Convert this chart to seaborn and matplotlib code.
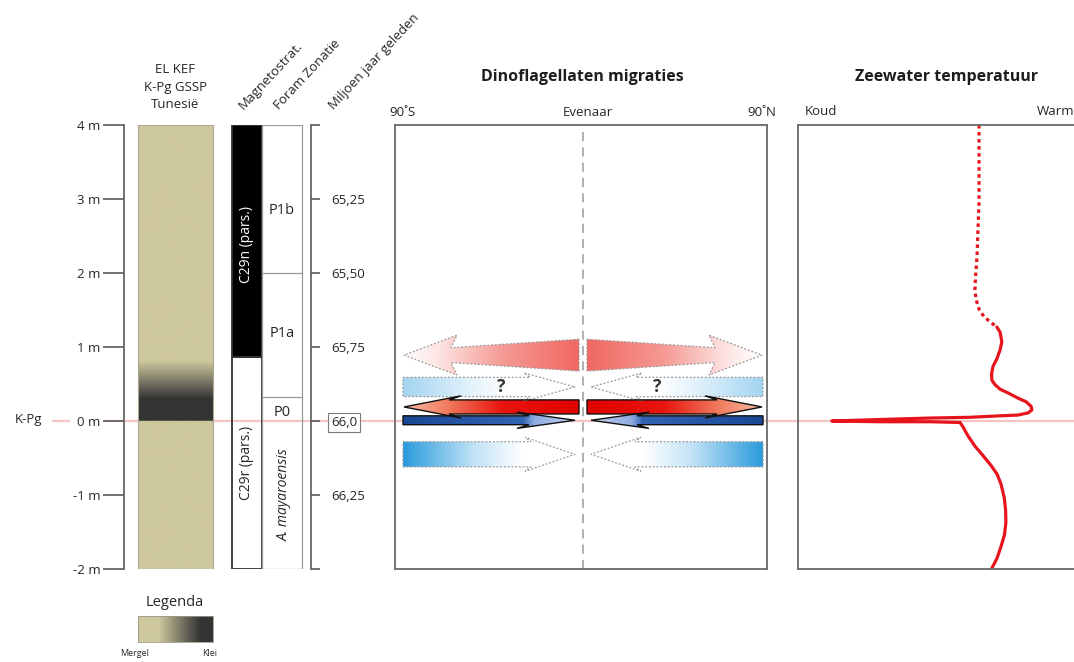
import numpy as np
import matplotlib
matplotlib.use("Agg")
import matplotlib.pyplot as plt
import seaborn as sns
from matplotlib.patches import Polygon, Rectangle
from matplotlib.colors import LinearSegmentedColormap

# ---------------- data ----------------
depth_ticks = [4, 3, 2, 1, 0, -1, -2]
depth_tick_labels = ["4 m", "3 m", "2 m", "1 m", "0 m", "-1 m", "-2 m"]
age_tick_depths = [4, 3, 2, 1, 0, -1, -2]
age_tick_labels = ["", "65,25", "65,50", "65,75", "66,0", "66,25", ""]

litho_depth = [-2.0, 0.0, 0.0, 0.30, 0.82, 4.0]
litho_clay = [0.0, 0.0, 1.0, 1.0, 0.0, 0.0]

magneto_names = ["C29n (pars.)", "C29r (pars.)"]
magneto_top = [4.0, 0.865]
magneto_base = [0.865, -2.0]
magneto_fill = ["black", "none"]

foram_zones = ["P1b", "P1a", "P0", "A. mayaroensis"]
foram_top = [4.0, 2.0, 0.32, 0.0]
foram_base = [2.0, 0.32, 0.0, -2.0]

kpg_depth = 0.0

dino_depth = [0.89, 0.46, 0.19, 0.01, -0.45]
dino_direction = ["poleward", "equatorward", "poleward", "equatorward", "equatorward"]
dino_uncertain = [False, True, False, False, False]

temp_dotted = [6.20, 6.20, 6.16, 6.13, 6.08, 6.06, 6.10, 6.20, 6.37, 6.58, 6.81]
depth_dotted = [4.00, 2.96, 2.55, 2.22, 1.95, 1.77, 1.64, 1.51, 1.41, 1.34, 1.27]
temp_solid = [6.81, 6.92, 6.98, 6.92, 6.81, 6.68, 6.63, 6.64, 6.75, 6.92, 7.19, 7.53,
              7.81, 7.98, 8.01, 7.88, 7.53, 6.92, 5.89, 4.52, 2.81, 1.16, 2.81, 4.52,
              5.55, 5.65, 5.82, 6.06, 6.34, 6.61, 6.82, 6.95, 7.06, 7.11, 7.12, 7.07,
              6.95, 6.82, 6.64, 6.58]
depth_solid = [1.27, 1.20, 1.07, 0.96, 0.84, 0.74, 0.64, 0.55, 0.49, 0.43, 0.38, 0.31,
               0.26, 0.20, 0.15, 0.11, 0.08, 0.07, 0.05, 0.04, 0.02, 0.00, -0.01, -0.01,
               -0.02, -0.08, -0.20, -0.34, -0.47, -0.60, -0.72, -0.85, -1.03, -1.20,
               -1.37, -1.54, -1.70, -1.85, -1.99, -2.04]

# ---------------- setup ----------------
sns.set_theme(style="white")
plt.rcParams["font.family"] = ["Open Sans", "DejaVu Sans"]

W, H = 1074, 662
fig = plt.figure(figsize=(W / 100, H / 100), dpi=100)
fig.patch.set_facecolor("white")


def box(x0, y0, x1, y1):
    return [x0 / W, 1 - y1 / H, (x1 - x0) / W, (y1 - y0) / H]


TOP, BOT = 125, 569
YL = (-2, 4)
PXM = (BOT - TOP) / 6.0
TXT = "#262626"
SP = "#5a5a5a"

# background axes for the K-Pg line
ax_bg = fig.add_axes([0, 0, 1, 1])
ax_bg.set_xlim(0, W)
ax_bg.set_ylim(-2 - (H - BOT) / PXM, 4 + TOP / PXM)
ax_bg.axis("off")
ax_bg.hlines(kpg_depth, 52, 70, color="#f7c4c4", lw=1.6)
ax_bg.hlines(kpg_depth, 103, W, color="#f7c4c4", lw=1.6)
fig.text(28 / W, 1 - 419 / H, "K-Pg", ha="center", va="center", size=9.5, color=TXT)

# ---------------- left strip: depth, litho, magneto, foram, age ----------------
ax_l = fig.add_axes(box(124, TOP, 311, BOT))
ax_l.set_facecolor("none")
ax_l.set_xlim(0, 187)
ax_l.set_ylim(*YL)
for s in ["top", "bottom", "right"]:
    ax_l.spines[s].set_visible(False)
ax_l.spines["left"].set_color(SP)
ax_l.spines["left"].set_linewidth(1.2)
ax_l.set_xticks([])
ax_l.set_yticks(depth_ticks)
ax_l.set_yticklabels(depth_tick_labels)
ax_l.tick_params(axis="y", direction="out", length=15, width=1.2, color=SP,
                 pad=2, labelsize=9.5, labelcolor=TXT, left=True)

litho_cmap = LinearSegmentedColormap.from_list("litho", ["#cfc99f", "#343434"])
grid = np.linspace(-2, 4, 800)
clay = np.interp(grid, litho_depth, litho_clay)
ax_l.imshow(clay[:, None], extent=[14, 89, -2, 4], origin="lower", cmap=litho_cmap,
            vmin=0, vmax=1, aspect="auto", interpolation="bilinear", zorder=1)
ax_l.add_patch(Rectangle((14, -2), 75, 6, fc="none", ec="#a8a68e", lw=0.8, zorder=2))

for name, top, base, fill in zip(magneto_names, magneto_top, magneto_base, magneto_fill):
    ax_l.bar(123, top - base, bottom=base, width=30, color=fill,
             edgecolor="#333333", linewidth=1.3, zorder=3)
    ax_l.text(123, (top + base) / 2 - (0.05 if fill == "black" else 0.0), name,
              rotation=90, ha="center", va="center", size=10,
              color="white" if fill == "black" else TXT, zorder=4)

ax_l.bar(158, 6, bottom=-2, width=40, color="none", edgecolor="#9a9a9a",
         linewidth=0.9, zorder=3)
for zone, top, base in zip(foram_zones, foram_top, foram_base):
    if base > -2 and base != kpg_depth:
        ax_l.hlines(base, 138, 178, color="#9a9a9a", lw=0.9, zorder=3)
    if zone.startswith("A."):
        ax_l.text(160, (top + base) / 2, zone, rotation=90, ha="center", va="center",
                  size=10, style="italic", color=TXT, zorder=4)
    else:
        off = {"P1b": -0.15, "P1a": 0.02, "P0": -0.04}[zone]
        ax_l.text(158, (top + base) / 2 + off, zone, ha="center", va="center",
                  size=10.5, color=TXT, zorder=4)

ax_age = ax_l.twinx()
ax_age.set_ylim(*YL)
ax_age.set_facecolor("none")
for s in ["top", "bottom", "left"]:
    ax_age.spines[s].set_visible(False)
ax_age.spines["right"].set_color(SP)
ax_age.spines["right"].set_linewidth(1.2)
ax_age.set_yticks(age_tick_depths)
ax_age.set_yticklabels(age_tick_labels)
ax_age.tick_params(axis="y", direction="out", length=6.5, width=1.2, color=SP,
                   pad=8, labelsize=9.5, labelcolor=TXT, right=True)
for lab in ax_age.get_yticklabels():
    if lab.get_text() == "66,0":
        lab.set_bbox(dict(fc="white", ec="#7a7a7a", lw=0.8, pad=2.0))

ax_l.set_xlim(0, 187)
ax_l.set_ylim(*YL)

# headers
fig.text(175 / W, 1 - 87 / H, "EL KEF\nK-Pg GSSP\nTunesië", ha="center", va="center",
         size=9.5, color=TXT, linespacing=1.45)
for px, txt in [(244, "Magnetostrat."), (279, "Foram Zonatie"), (334, "Miljoen jaar geleden")]:
    fig.text(px / W, 1 - 110 / H, txt, rotation=47, rotation_mode="anchor",
             ha="left", va="baseline", size=9.5, color=TXT)

# legend
ax_leg = fig.add_axes(box(138, 616, 213, 642))
leg_x = np.linspace(0, 1, 300)
leg_v = np.interp(leg_x, [0, 0.27, 0.83, 1], [0, 0, 1, 1])
ax_leg.imshow(leg_v[None, :], extent=[0, 1, 0, 1], cmap=litho_cmap, vmin=0, vmax=1,
              aspect="auto", interpolation="bilinear")
ax_leg.set_xticks([])
ax_leg.set_yticks([])
for s in ax_leg.spines.values():
    s.set_color("#9a9a8a")
    s.set_linewidth(0.6)
fig.text(175 / W, 1 - 603 / H, "Legenda", ha="center", va="center", size=10.5, color=TXT)
fig.text(135 / W, 1 - 653 / H, "Mergel", ha="center", va="center", size=6.5, color=TXT)
fig.text(210 / W, 1 - 653 / H, "Klei", ha="center", va="center", size=6.5, color=TXT)

# ---------------- middle: dinoflagellate migrations ----------------
ax_m = fig.add_axes(box(395, TOP, 767, BOT))
ax_m.set_facecolor("none")
XL = (-94, 92)
for s in ax_m.spines.values():
    s.set_color("#6a6a6a")
    s.set_linewidth(1.3)
ax_m.set_xticks([])
ax_m.set_yticks([])
ax_m.axvline(0, color="#9a9a9a", lw=1.1, ls=(0, (6, 4)), zorder=1)
ax_m.text(-90.5, 4.08, "90˚S", ha="center", va="bottom", size=9.5, color=TXT)
ax_m.text(2.5, 4.08, "Evenaar", ha="center", va="bottom", size=9.5, color=TXT)
ax_m.text(89.5, 4.08, "90˚N", ha="center", va="bottom", size=9.5, color=TXT)
fig.text(582 / W, 1 - 77 / H, "Dinoflagellaten migraties", ha="center", va="center",
         size=11.5, weight="bold", color="#1e1e1e")

row_style = [
    dict(hw_t=0.215, hw_b=0.10, hh=0.27, base=66, sweep=3,
         stops=[(0, "#f0665f"), (0.45, "#f59a94"), (0.8, "#fde4e2"), (1, "#ffffff")],
         ec="#9a9a9a", ls=(0, (1.5, 1.5)), lw=0.9),
    dict(hw_t=0.13, hw_b=0.13, hh=0.19, base=26.5, sweep=3,
         stops=[(0, "#ffffff"), (0.42, "#ffffff"), (0.62, "#e3f2fb"), (1, "#a3d5f1")],
         ec="#9a9a9a", ls=(0, (1.5, 1.5)), lw=0.9),
    dict(hw_t=0.095, hw_b=0.095, hh=0.15, base=67, sweep=6,
         stops=[(0, "#e00000"), (0.45, "#e81510"), (0.75, "#f07a5c"), (1, "#f7bca5")],
         ec="#111111", ls="-", lw=1.0),
    dict(hw_t=0.06, hw_b=0.06, hh=0.11, base=27, sweep=6,
         stops=[(0, "#cbd8f2"), (0.27, "#8eabe0"), (0.33, "#3363b5"), (1, "#1a4895")],
         ec="#111111", ls="-", lw=1.0),
    dict(hw_t=0.17, hw_b=0.17, hh=0.23, base=26, sweep=3,
         stops=[(0, "#ffffff"), (0.33, "#ffffff"), (0.6, "#c4e4f6"), (1, "#2a9bdc")],
         ec="#9a9a9a", ls=(0, (1.5, 1.5)), lw=0.9),
]


def arrow_verts(x_tail, x_tip, x_base, yc, hw_t, hw_b, hh, sweep):
    s = np.sign(x_tip - x_tail)
    return [(x_tail, yc + hw_t), (x_base, yc + hw_b), (x_base - s * sweep, yc + hh),
            (x_tip, yc), (x_base - s * sweep, yc - hh), (x_base, yc - hw_b),
            (x_tail, yc - hw_t)]


for i, (yc, direction, unsure) in enumerate(zip(dino_depth, dino_direction, dino_uncertain)):
    st = row_style[i]
    cmap = LinearSegmentedColormap.from_list(f"row{i}", st["stops"])
    for side in (-1, 1):
        if direction == "poleward":
            x_tail, x_tip, x_base = 2.0 * side, 89.5 * side, st["base"] * side
        else:
            x_tail, x_tip, x_base = 90.0 * side, 4.0 * side, st["base"] * side
        verts = arrow_verts(x_tail, x_tip, x_base, yc, st["hw_t"], st["hw_b"], st["hh"], st["sweep"])
        xs = np.linspace(min(x_tail, x_tip), max(x_tail, x_tip), 400)
        img = cmap(np.abs(xs) / 90.0)[None, :, :]
        im = ax_m.imshow(img, extent=[xs[0], xs[-1], yc - st["hh"], yc + st["hh"]],
                         origin="lower", aspect="auto", interpolation="bilinear", zorder=2)
        clip = Polygon(verts, closed=True, transform=ax_m.transData, fc="none", ec="none")
        im.set_clip_path(clip)
        ax_m.add_patch(Polygon(verts, closed=True, fc="none", ec=st["ec"], lw=st["lw"],
                               ls=st["ls"], joinstyle="miter", zorder=3))
        if unsure:
            ax_m.text(-41 if side < 0 else 37, yc, "?", ha="center", va="center",
                      size=12.5, weight="bold", color="#333333", zorder=4)

ax_m.set_xlim(*XL)
ax_m.set_ylim(*YL)

# ---------------- right: sea water temperature ----------------
ax_t = fig.add_axes(box(798, TOP, 1090, BOT))
ax_t.set_facecolor("none")
for s in ax_t.spines.values():
    s.set_color("#6a6a6a")
    s.set_linewidth(1.3)
sns.lineplot(x=temp_dotted, y=depth_dotted, sort=False, estimator=None, ax=ax_t,
             color="#e8141c", lw=2.3, linestyle=(0, (1.1, 1.1)))
sns.lineplot(x=temp_solid, y=depth_solid, sort=False, estimator=None, ax=ax_t,
             color="#e8141c", lw=2.3)
ax_t.set_xlim(0, 10)
ax_t.set_ylim(*YL)
ax_t.set_xticks([])
ax_t.set_yticks([])
ax_t.set_xlabel("")
ax_t.set_ylabel("")
ax_t.text(0.024, 1.015, "Koud", transform=ax_t.transAxes, ha="left", va="bottom",
          size=9.5, color=TXT)
ax_t.text(0.818, 1.015, "Warm", transform=ax_t.transAxes, ha="left", va="bottom",
          size=9.5, color=TXT)
fig.text(947 / W, 1 - 77 / H, "Zeewater temperatuur", ha="center", va="center",
         size=11.5, weight="bold", color="#1e1e1e")

fig.savefig("out.png", dpi=100)
